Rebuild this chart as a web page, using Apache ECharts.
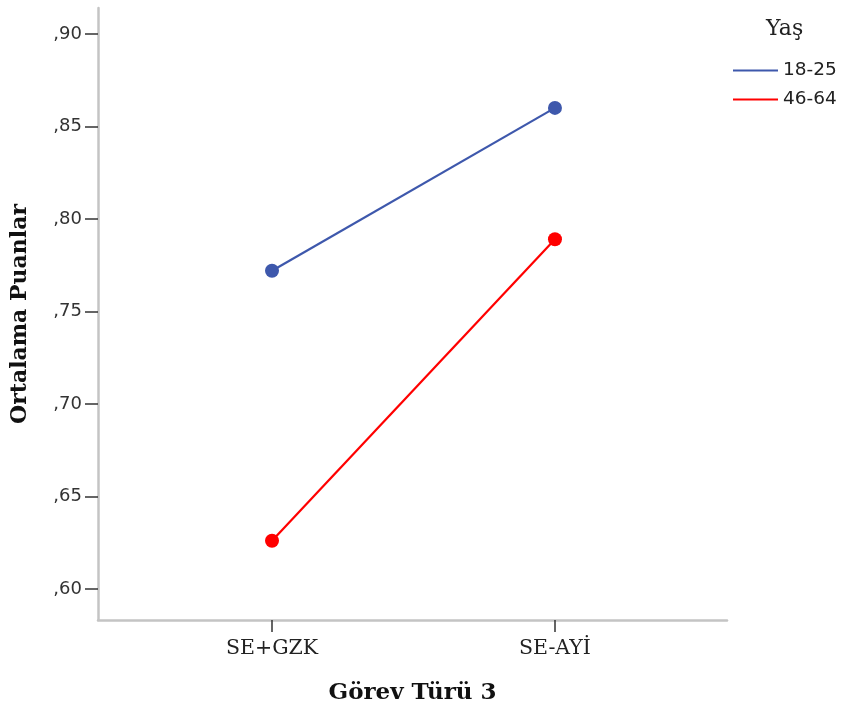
<!DOCTYPE html>
<html>
<head>
<meta charset="utf-8">
<script src="https://cdn.jsdelivr.net/npm/echarts@6/dist/echarts.min.js"></script>
<style>html,body{margin:0;padding:0;background:#fff}#c{width:841px;height:710px}</style>
</head>
<body>
<div id="c"></div>
<script>
const categories = ['SE+GZK', 'SE-AYİ'];
const seriesNames = ['18-25', '46-64'];
const values1825 = [0.772, 0.860];
const values4664 = [0.626, 0.789];
const yTicks = [0.60, 0.65, 0.70, 0.75, 0.80, 0.85, 0.90];
const xPositions = [1, 2];

const chart = echarts.init(document.getElementById('c'), null, {renderer: 'canvas'});
const colors = ['#3e58ac', '#ff0000'];
const toPairs = vals => vals.map((v, i) => [xPositions[i], v]);

chart.setOption({
  animation: false,
  backgroundColor: '#fff',
  grid: {left: 98, top: 8, right: 114, bottom: 90, containLabel: false, outerBoundsMode: 'none'},
  xAxis: {
    type: 'value', min: 0.385, max: 2.608,
    name: 'Görev Türü 3', nameLocation: 'middle', nameGap: 62,
    nameTextStyle: {fontFamily: 'DejaVu Serif', fontWeight: 'bold', fontSize: 23, color: '#111'},
    axisLine: {lineStyle: {color: '#c4c4c4', width: 2.5}},
    axisTick: {show: true, length: 12, lineStyle: {color: '#333', width: 1.5}, customValues: xPositions},
    axisLabel: {customValues: xPositions, margin: 18, fontFamily: 'DejaVu Serif', fontSize: 20.5, color: '#222',
      formatter: v => categories[Math.round(v) - 1] || ''},
    splitLine: {show: false}
  },
  yAxis: {
    type: 'value', min: 0.5832, max: 0.914,
    name: 'Ortalama Puanlar', nameLocation: 'middle', nameGap: 67, nameRotate: 90,
    nameTextStyle: {fontFamily: 'DejaVu Serif', fontWeight: 'bold', fontSize: 22, color: '#111'},
    axisLine: {show: true, lineStyle: {color: '#c4c4c4', width: 2.5}},
    axisTick: {show: true, length: 13, lineStyle: {color: '#333', width: 1.5}, customValues: yTicks},
    axisLabel: {customValues: yTicks, margin: 16, fontFamily: 'DejaVu Sans', fontSize: 18, color: '#333',
      formatter: v => ',' + Math.round(v * 100).toString().padStart(2, '0')},
    splitLine: {show: false}
  },
  legend: {
    data: seriesNames.map(n => ({name: n, icon: 'rect'})),
    orient: 'vertical', left: 733, top: 61, padding: 0,
    itemWidth: 45, itemHeight: 2, itemGap: 10,
    textStyle: {fontFamily: 'DejaVu Sans', fontSize: 18.5, color: '#222'}
  },
  graphic: [{
    type: 'text', left: 766, top: 18,
    style: {text: 'Yaş', font: '22px "DejaVu Serif"', fill: '#222'}
  }],
  series: [
    {name: seriesNames[0], type: 'line', data: toPairs(values1825), symbol: 'circle', symbolSize: 14,
      lineStyle: {color: colors[0], width: 2.2}, itemStyle: {color: colors[0]}},
    {name: seriesNames[1], type: 'line', data: toPairs(values4664), symbol: 'circle', symbolSize: 14,
      lineStyle: {color: colors[1], width: 2.2}, itemStyle: {color: colors[1]}}
  ]
});
</script>
</body>
</html>
